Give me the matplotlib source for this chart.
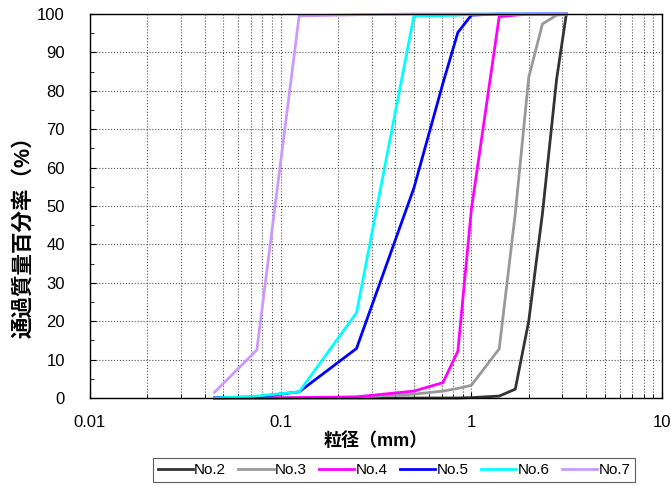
import numpy as np
import matplotlib
matplotlib.use('Agg')
import matplotlib.pyplot as plt
from matplotlib.ticker import FixedLocator, NullFormatter

plt.rcParams['font.family'] = ['Liberation Sans', 'Noto Sans CJK JP']

# ふるい目 (mm)
tamices = [0.045, 0.075, 0.125, 0.25, 0.5, 0.71, 0.85, 1.0, 1.4, 1.7, 2.0, 2.36, 2.8, 3.15]

# 通過質量百分率 (%)
no2 = [0, 0, 0, 0, 0, 0, 0, 0.1, 0.5, 2.3, 20, 48, 83, 100]
no3 = [0, 0, 0, 0.2, 1.0, 1.8, 2.5, 3.3, 12.8, 48, 83.5, 97.4, 99.7, 100]
no4 = [0, 0, 0.1, 0.3, 1.8, 4.0, 12.2, 49, 99.3, 99.7, 100, 100, 100, 100]
no5 = [0, 0.3, 1.6, 12.9, 54.7, 82, 95.2, 99.7, 100, 100, 100, 100, 100, 100]
no6 = [0, 0.5, 1.6, 22.2, 99.5, 99.6, 99.7, 100, 100, 100, 100, 100, 100, 100]
no7 = [1.5, 12.5, 99.5, 99.8, 100, 100, 100, 100, 100, 100, 100, 100, 100, 100]

series = [('No.2', no2, '#333333'), ('No.3', no3, '#999999'), ('No.4', no4, '#FF00FF'),
          ('No.5', no5, '#0000FF'), ('No.6', no6, '#00FFFF'), ('No.7', no7, '#CC99FF')]

fig = plt.figure(figsize=(6.71, 4.86), dpi=100)
ax = fig.add_axes([90/671, 1-398/486, 572/671, 384/486])

for nombre, valores, color in series:
    ax.plot(tamices, valores, color=color, lw=2.0, label=nombre, clip_on=False)

ax.set_xscale('log')
ax.set_xlim(0.01, 10)
ax.set_ylim(0, 100)
ax.set_xticks([0.01, 0.1, 1, 10])
ax.set_xticklabels(['0.01', '0.1', '1', '10'])
ax.xaxis.set_minor_formatter(NullFormatter())
ax.set_yticks(np.arange(0, 101, 10))
ax.yaxis.set_minor_locator(FixedLocator(np.arange(5, 100, 10)))

ax.grid(True, which='both', axis='x', ls=':', color='#555555', lw=0.8)
ax.grid(True, which='major', axis='y', ls=':', color='#555555', lw=0.8)
ax.tick_params(which='both', direction='in', labelsize=12)
ax.tick_params(which='major', length=4)
ax.tick_params(which='minor', length=3)
ax.tick_params(axis='x', pad=12)
ax.tick_params(axis='y', pad=18)
for s in ax.spines.values():
    s.set_linewidth(1.0)

ax.set_xlabel('粒径（mm）', fontsize=13, fontweight='bold', labelpad=2)
ax.set_ylabel('通過質量百分率（%）', fontsize=15.5, fontweight='bold', va='center')
ax.yaxis.set_label_coords(-0.115, 0.432)

leg = fig.legend(loc='center', bbox_to_anchor=(394/671, 1-470/486), ncol=6, fontsize=11,
                 frameon=True, fancybox=False, edgecolor='#333333', handlelength=2.3,
                 handletextpad=0.1, columnspacing=0.8, borderpad=0.3)
leg.get_frame().set_linewidth(0.8)

fig.savefig('out.png', dpi=100)
